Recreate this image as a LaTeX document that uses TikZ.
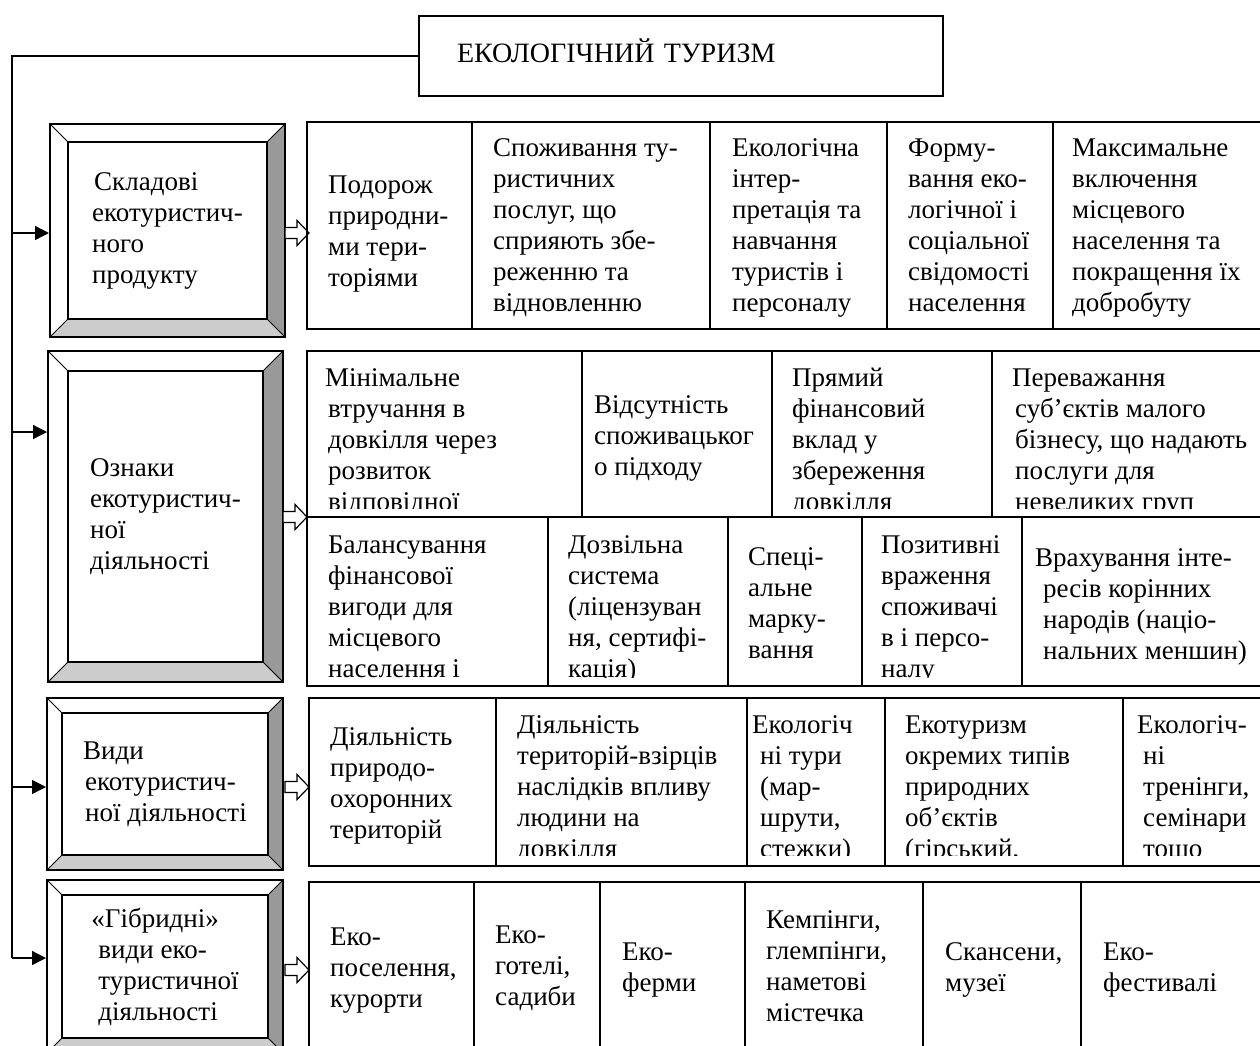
\documentclass[tikz,border=0pt]{standalone}
\usepackage{fontspec}
\setmainfont{Liberation Serif}
\usetikzlibrary{arrows.meta, calc}
\definecolor{bevelside}{rgb}{0.6, 0.6, 0.6}
\definecolor{bevelbase}{rgb}{0.8, 0.8, 0.8}

\tikzset{
  blockarrow/.pic = {%
    \draw[fill = white, line width = 1.2pt]
      (0,-5.5) -- (12,-5.5) -- (12,-12.5) -- (24,0) -- (12,12.5) -- (12,5.5) -- (0,5.5) -- cycle; }
}

\begin{document}
\begin{tikzpicture} [%
    x = 1pt, y = -1pt,
    font = \fontsize{27}{31}\selectfont,
    >= { Triangle[length = 14pt, width = 14pt] },
    trunk/.style = { line width = 1.3pt },
    grid/.style = { line width = 2pt },
    % cells are placed by the baseline of their last line
    cell/.style = { align = left, inner sep = 0pt, anchor = base west },
    bevel/.style = {%
      draw, line width = 2pt, align = left, inner sep = 0pt,
      path picture = {%
        \coordinate (bnw) at (path picture bounding box.north west);
        \coordinate (bse) at (path picture bounding box.south east);
        \coordinate (bne) at (bnw -| bse);
        \coordinate (bsw) at (bse -| bnw);
        \coordinate (inw) at ($(bnw) + (#1,#1)$);
        \coordinate (ine) at ($(bne) + (-#1,#1)$);
        \coordinate (ise) at ($(bse) + (-#1,-#1)$);
        \coordinate (isw) at ($(bsw) + (#1,-#1)$);
        \fill[bevelside] (bne) -- (bse) -- (ise) -- (ine) -- cycle;
        \fill[bevelbase] (bsw) -- (bse) -- (ise) -- (isw) -- cycle;
        \draw[line width = 1pt] (bnw) -- (inw) (bne) -- (ine) (bse) -- (ise) (bsw) -- (isw);
        \draw[line width = 2pt] (inw) rectangle (ise); } }
  ]

  \path[use as bounding box, fill = white] (0,0) rectangle (1260,1045);

  % title
  \node[draw, line width = 2pt, anchor = north west, minimum width = 524pt, minimum height = 80pt,
        inner xsep = 38pt, text width = 448pt, text depth = 10pt, align = left,
        font = \fontsize{28}{31}\selectfont] (title) at (418,15) {ЕКОЛОГІЧНИЙ ТУРИЗМ};

  % left column
  \node[bevel = 18, minimum width = 235pt, minimum height = 213pt] (sklad) at (167.5,230.5)
    {\hspace*{2pt}Складові\\екотуристич-\\ного\\продукту};
  \node[bevel = 20, minimum width = 235pt, minimum height = 331pt] (oznaky) at (165.5,516.5)
    {Ознаки\\екотуристич-\\ної\\діяльності};
  \node[bevel = 15, minimum width = 236pt, minimum height = 172pt] (vydy) at (165,784)
    {Види\\\hspace*{2pt}екотуристич-\\\hspace*{2pt}ної діяльності};
  \node[bevel = 15, minimum width = 236pt, minimum height = 173pt] (hybrid) at (165,966.5)
    {«Гібридні»\\\hspace*{7pt}види еко-\\\hspace*{7pt}туристичної\\\hspace*{7pt}діяльності};

  \coordinate (t1) at (12,233);
  \coordinate (t2) at (12,432);
  \coordinate (t3) at (12,787);
  \coordinate (t4) at (12,958);
  \draw[trunk] (title.west) -| (t4);
  \draw[trunk, ->] (t1) -- (t1 -| sklad.west);
  \draw[trunk, ->] (t2) -- (t2 -| oznaky.west);
  \draw[trunk, ->] (t3) -- (t3 -| vydy.west);
  \draw[trunk, ->] (t4) -- (t4 -| hybrid.west);

  \pic at (285,233) {blockarrow};
  \pic at (283,517) {blockarrow};
  \pic at (285,787) {blockarrow};
  \pic at (285,970) {blockarrow};

  % row 1
  \draw[grid] (307,122) rectangle (1262,329);
  \foreach \x in {472, 710, 887, 1053}
    \draw[grid] (\x,122) -- (\x,329);
  \node[cell] (p1) at (328,286) {Подорож\\природни-\\ми тери-\\торіями};
  \node[cell] (p2) at (493,311) {Споживання ту-\\ристичних\\послуг, що\\сприяють збе-\\реженню та\\відновленню};
  \node[cell] (p3) at (732,311) {Екологічна\\інтер-\\претація та\\навчання\\туристів і\\персоналу};
  \node[cell] (p4) at (908,311) {Форму-\\вання еко-\\логічної і\\соціальної\\свідомості\\населення};
  \node[cell] (p5) at (1072,311) {Максимальне\\включення\\місцевого\\населення та\\покращення їх\\добробуту};

  % row 2
  \draw[grid] (307,351) rectangle (1262,686);
  \draw[grid] (307,517) -- (1262,517);
  \foreach \x in {582, 772, 992}
    \draw[grid] (\x,351) -- (\x,517);
  \foreach \x in {548, 728, 862, 1022}
    \draw[grid] (\x,517) -- (\x,686);
  \begin{scope}
    \clip (307,351) rectangle (1262,508);
    \node[cell] (q1) at (325,510) {Мінімальне\\\hspace*{3pt}втручання в\\\hspace*{3pt}довкілля через\\\hspace*{3pt}розвиток\\\hspace*{3pt}відповідної};
    \node[cell] (q2) at (594,475) {Відсутність\\споживацьког\\о підходу};
    \node[cell] (q3) at (792,510) {Прямий\\фінансовий\\вклад у\\збереження\\довкілля};
    \node[cell] (q4) at (1012,510) {Переважання\\\hspace*{3pt}суб’єктів малого\\\hspace*{3pt}бізнесу, що надають\\\hspace*{3pt}послуги для\\\hspace*{3pt}невеликих груп};
  \end{scope}
  \begin{scope}
    \clip (307,517) rectangle (1262,677);
    \node[cell] (q5) at (328,677) {Балансування\\фінансової\\вигоди для\\місцевого\\населення і};
    \node[cell] (q6) at (568,677) {Дозвільна\\система\\(ліцензуван\\ня, сертифі-\\кація)};
    \node[cell] (q7) at (748,658) {Спеці-\\альне\\марку-\\вання};
    \node[cell] (q8) at (881,677) {Позитивні\\враження\\споживачі\\в і персо-\\налу};
    \node[cell] (q9) at (1035,659) {Врахування інте-\\\hspace*{8pt}ресів корінних\\\hspace*{8pt}народів (націо-\\\hspace*{8pt}нальних меншин)};
  \end{scope}

  % row 3
  \draw[grid] (309,698) rectangle (1262,866);
  \foreach \x in {496, 747, 885, 1123}
    \draw[grid] (\x,698) -- (\x,866);
  \begin{scope}
    \clip (309,698) rectangle (1262,855);
    \node[cell] (v1) at (330,838) {Діяльність\\природо-\\охоронних\\територій};
    \node[cell] (v2) at (517,857) {Діяльність\\територій-взірців\\наслідків впливу\\людини на\\довкілля};
    \node[cell] (v3) at (752,857) {Екологіч\\\hspace*{8pt}ні тури\\\hspace*{8pt}(мар-\\\hspace*{8pt}шрути,\\\hspace*{8pt}стежки)};
    \node[cell] (v4) at (905,857) {Екотуризм\\окремих типів\\природних\\об’єктів\\(гірський,};
    \node[cell] (v5) at (1137,857) {Екологіч-\\\hspace*{6pt}ні\\\hspace*{6pt}тренінги,\\\hspace*{6pt}семінари\\\hspace*{6pt}тощо};
  \end{scope}

  % row 4
  \draw[grid] (309,1050) -- (309,882) -- (1262,882);
  \foreach \x in {474, 600, 745, 923, 1081}
    \draw[grid] (\x,882) -- (\x,1050);
  \node[cell] (g1) at (330,1007) {Еко-\\поселення,\\курорти};
  \node[cell] (g2) at (495,1005) {Еко-\\готелі,\\садиби};
  \node[cell] (g3) at (622,991) {Еко-\\ферми};
  \node[cell] (g4) at (766,1021) {Кемпінги,\\глемпінги,\\наметові\\містечка};
  \node[cell] (g5) at (945,991) {Скансени,\\музеї};
  \node[cell] (g6) at (1103,991) {Еко-\\фестивалі};

\end{tikzpicture}
\end{document}
